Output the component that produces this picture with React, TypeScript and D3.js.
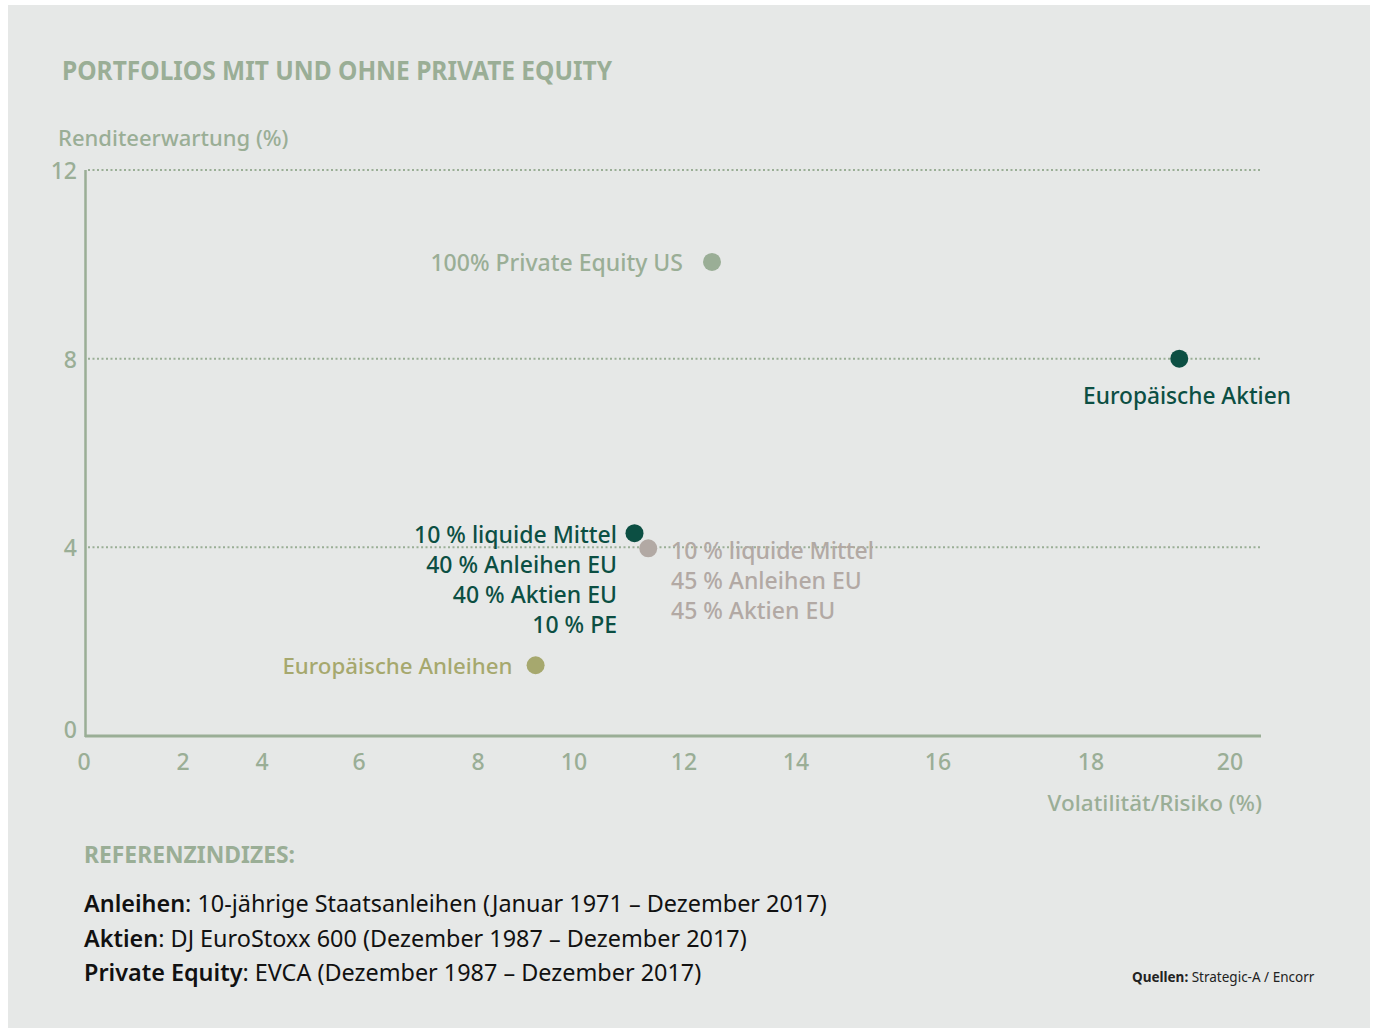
import React from "react";
import * as d3 from "d3";

const xTicks = [0, 2, 4, 6, 8, 10, 12, 14, 16, 18, 20];
const xTickPos = [84, 183, 262, 359, 478, 574, 684, 796, 938, 1091, 1230];
const yTicks = [0, 4, 8, 12];

const pointNames = ["pe_us", "eu_aktien", "mix_pe", "mix_nope", "eu_anleihen"];
const pointX = [12.5, 19.27, 11.1, 11.35, 9.2];
const pointY = [10.05, 8.0, 4.3, 3.98, 1.5];
const pointColors = ["#9aae96", "#0c4f43", "#0c4f43", "#b2a9a4", "#a6a86e"];

const labelPE = ["100% Private Equity US"];
const labelAktien = ["Europäische Aktien"];
const labelMixPE = ["10 % liquide Mittel", "40 % Anleihen EU", "40 % Aktien EU", "10 % PE"];
const labelMixNoPE = ["10 % liquide Mittel", "45 % Anleihen EU", "45 % Aktien EU"];
const labelAnleihen = ["Europäische Anleihen"];

const refBold = ["Anleihen", "Aktien", "Private Equity"];
const refText = [
  ": 10-jährige Staatsanleihen (Januar 1971 – Dezember 2017)",
  ": DJ EuroStoxx 600 (Dezember 1987 – Dezember 2017)",
  ": EVCA (Dezember 1987 – Dezember 2017)",
];

const SAGE = "#9aae96";
const LBL = "'Noto Sans', 'Open Sans', sans-serif";

export default function App() {
  const x = d3.scaleLinear().domain(xTicks).range(xTickPos);
  const y = d3.scaleLinear().domain([0, 12]).range([736, 170]);
  const xEnd = 1261;

  const pts = pointNames.map((n, i) => ({ n, cx: x(pointX[i]), cy: y(pointY[i]), c: pointColors[i] }));
  const p = (n: string) => pts.find((d) => d.n === n)!;

  return (
    <svg width={1375} height={1029} style={{ position: "absolute", left: 0, top: 0 }}>
      <rect x={0} y={0} width={1375} height={1029} fill="#ffffff" />
      <rect x={8} y={5} width={1362} height={1023} fill="#e6e8e7" />

      <text x={62} y={80} fontFamily={LBL} fontWeight="bold" fontSize={26} fill={SAGE} textLength={550} lengthAdjust="spacingAndGlyphs">
        PORTFOLIOS MIT UND OHNE PRIVATE EQUITY
      </text>
      <text x={58} y={146} fontFamily={LBL} fontWeight={500} fontSize={22} fill={SAGE}>
        Renditeerwartung (%)
      </text>

      {yTicks.filter((t) => t > 0).map((t) => (
        <line key={"g" + t} x1={88} x2={xEnd} y1={y(t)} y2={y(t)} stroke={SAGE} strokeWidth={2} strokeDasharray="2,2.5" />
      ))}
      {yTicks.map((t) => (
        <text key={"yt" + t} x={77} y={t === 0 ? y(t) - 7 : y(t)} textAnchor="end" dominantBaseline="central" fontFamily={LBL} fontWeight={500} fontSize={23} fill={SAGE}>
          {t}
        </text>
      ))}
      <line x1={85.5} x2={85.5} y1={y(12)} y2={y(0) + 1} stroke={SAGE} strokeWidth={2.5} />
      <line x1={85} x2={xEnd} y1={y(0)} y2={y(0)} stroke={SAGE} strokeWidth={3} />
      {xTicks.map((t) => (
        <text key={"xt" + t} x={x(t)} y={761} textAnchor="middle" dominantBaseline="central" fontFamily={LBL} fontWeight={500} fontSize={23} fill={SAGE}>
          {t}
        </text>
      ))}
      <text x={1262} y={811} textAnchor="end" fontFamily={LBL} fontWeight={500} fontSize={22.5} fill={SAGE}>
        Volatilität/Risiko (%)
      </text>

      {pts.map((d) => (
        <circle key={d.n} cx={d.cx} cy={d.cy} r={9} fill={d.c} />
      ))}

      <text x={p("pe_us").cx - 29} y={p("pe_us").cy} textAnchor="end" dominantBaseline="central" fontFamily={LBL} fontWeight={500} fontSize={23} fill={SAGE}>
        {labelPE[0]}
      </text>
      <text x={1187} y={404} textAnchor="middle" fontFamily={LBL} fontWeight={500} fontSize={22.7} fill="#0c4f43">
        {labelAktien[0]}
      </text>
      {labelMixPE.map((s, i) => (
        <text key={"m" + i} x={617} y={543 + i * 30} textAnchor="end" fontFamily={LBL} fontWeight={500} fontSize={23} fill="#0c4f43">
          {s}
        </text>
      ))}
      {labelMixNoPE.map((s, i) => (
        <text key={"n" + i} x={671} y={559 + i * 30} textAnchor="start" fontFamily={LBL} fontWeight={500} fontSize={23} fill="#b2a9a4">
          {s}
        </text>
      ))}
      <text x={p("eu_anleihen").cx - 23} y={p("eu_anleihen").cy} textAnchor="end" dominantBaseline="central" fontFamily={LBL} fontWeight={500} fontSize={22.3} fill="#a6a86e">
        {labelAnleihen[0]}
      </text>

      <text x={84} y={863} fontFamily={LBL} fontWeight="bold" fontSize={23} fill={SAGE} textLength={211} lengthAdjust="spacingAndGlyphs">
        REFERENZINDIZES:
      </text>
      {refBold.map((b, i) => (
        <text key={"r" + i} x={84} y={912 + i * 34.5} fontFamily={LBL} fontSize={23.4} fill="#111">
          <tspan fontWeight={600}>{b}</tspan>
          <tspan>{refText[i]}</tspan>
        </text>
      ))}
      <text x={1132} y={982} fontFamily={LBL} fontSize={13.5} fill="#222">
        <tspan fontWeight="bold">Quellen:</tspan>
        <tspan> Strategic-A / Encorr</tspan>
      </text>
    </svg>
  );
}
